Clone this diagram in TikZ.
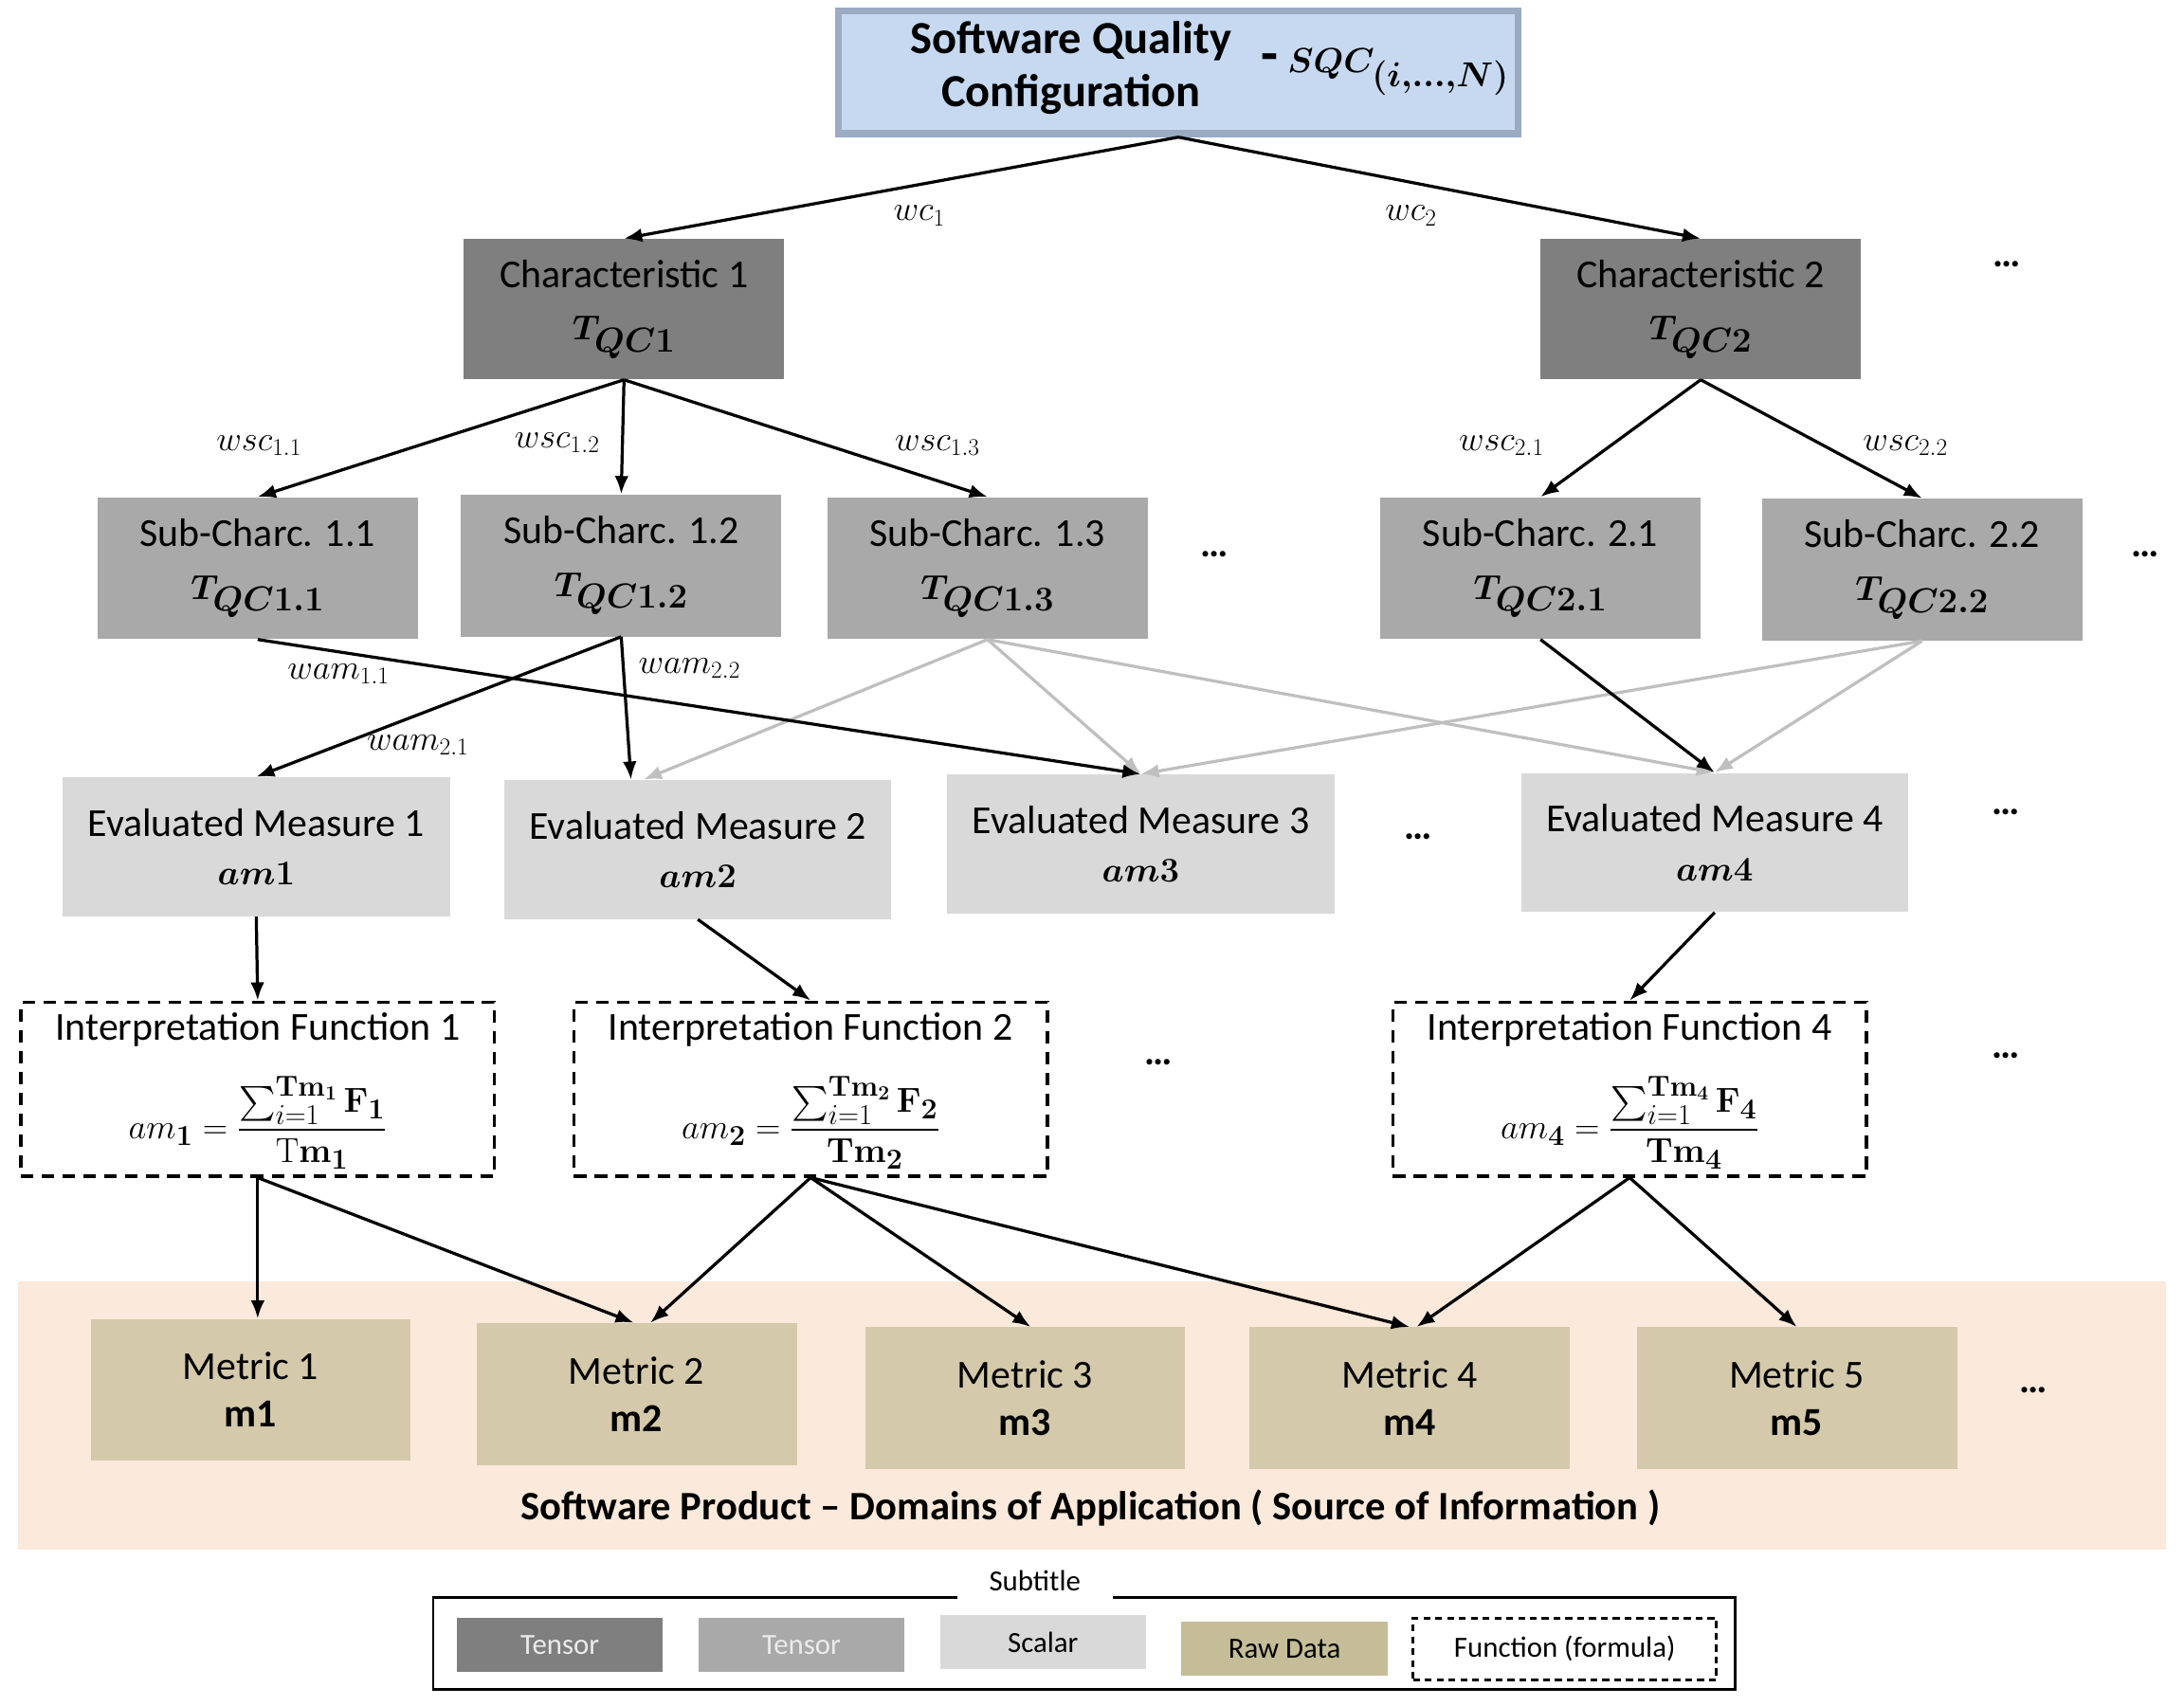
\documentclass[tikz,border=0pt]{standalone}
\usepackage{amsmath}
\usepackage{bm}
\usepackage[no-math]{fontspec}
\setmainfont{Carlito}
\usetikzlibrary{calc,positioning,arrows,arrows.meta}
\definecolor{sqcblue}{HTML}{C6D9F1}
\definecolor{sqcedge}{HTML}{9AABC2}
\definecolor{chargray}{HTML}{7F7F7F}
\definecolor{subgray}{HTML}{A9A9A9}
\definecolor{evalgray}{HTML}{D9D9D9}
\definecolor{metrictan}{HTML}{D4C9AB}
\definecolor{rawtan}{HTML}{C4BD97}
\definecolor{domainbg}{HTML}{FBE9DB}
\definecolor{weakline}{HTML}{BFBFBF}
\newcommand{\boxmath}[1]{{\fontsize{33}{38}\selectfont$#1$}}
\newcommand{\formula}[1]{{\fontsize{29.5}{34}\selectfont$#1$}}

\begin{document}
\begin{tikzpicture}[x=1pt,y=-1pt,
   box/.style={minimum width=230pt,minimum height=101pt,inner sep=0pt,align=center,font=\fontsize{28.5}{38}\selectfont},
   charbox/.style={box,fill=chargray},
   subbox/.style={box,fill=subgray,minimum height=102pt},
   evalbox/.style={box,fill=evalgray,minimum width=278pt,minimum height=100pt,font=\fontsize{28.5}{35}\selectfont},
   funcbox/.style={box,draw,dash pattern=on 9pt off 6pt,line width=2.2pt,minimum width=340pt,minimum height=125pt},
   functext/.style={inner sep=0pt,font=\fontsize{28.5}{34}\selectfont},
   metricbox/.style={box,fill=metrictan,minimum height=102pt,font=\fontsize{28.5}{34}\selectfont},
   legbox/.style={minimum width=148pt,minimum height=39pt,inner sep=0pt,font=\fontsize{21}{24}\selectfont},
   wlab/.style={font=\fontsize{27}{30}\selectfont},
   more/.style={font=\fontsize{28}{30}\selectfont\bfseries},
   arr/.style={line width=2.2pt,-{Latex[length=13pt,width=10pt]}},
   weak/.style={arr,draw=weakline}
   ]
\useasboundingbox (0,0) rectangle (1568,1225);

% source of information
\fill[domainbg] (13,920) rectangle (1555,1113);
\node[font=\fontsize{29}{32}\selectfont\bfseries] (domlbl) at (783,1083) {Software Product -- Domains of Application ( Source of Information )};

% top level
\node[draw=sqcedge,line width=5pt,fill=sqcblue,minimum width=488pt,minimum height=88pt] (sqc) at (846,52) {};
\node[align=center,font=\fontsize{33}{38}\selectfont\bfseries] (sqctxt) at (769,49) {Software Quality\\Configuration};
\node[font=\fontsize{40}{44}\selectfont\bfseries,anchor=west] (sqcname) at (902,52) {-\,$\bm{SQC}_{\bm{(i,\ldots,N)}}$};

\node[charbox] (char1) at (448,222) {Characteristic 1\\\boxmath{\bm{T_{QC1}}}};
\node[charbox] (char2) at (1221,222) {Characteristic 2\\\boxmath{\bm{T_{QC2}}}};

\node[subbox] (sub11) at (185,408) {Sub-Charc. 1.1\\\boxmath{\bm{T_{QC1.1}}}};
\node[subbox] (sub12) at (446,406) {Sub-Charc. 1.2\\\boxmath{\bm{T_{QC1.2}}}};
\node[subbox] (sub13) at (709,408) {Sub-Charc. 1.3\\\boxmath{\bm{T_{QC1.3}}}};
\node[subbox] (sub21) at (1106,408) {Sub-Charc. 2.1\\\boxmath{\bm{T_{QC2.1}}}};
\node[subbox] (sub22) at (1380,409) {Sub-Charc. 2.2\\\boxmath{\bm{T_{QC2.2}}}};

\node[evalbox] (em1) at (184,608) {Evaluated Measure 1\\\boxmath{\bm{am}\mathbf{1}}};
\node[evalbox] (em2) at (501,610) {Evaluated Measure 2\\\boxmath{\bm{am}\mathbf{2}}};
\node[evalbox] (em3) at (819,606) {Evaluated Measure 3\\\boxmath{\bm{am}\mathbf{3}}};
\node[evalbox] (em4) at (1231,605) {Evaluated Measure 4\\\boxmath{\bm{am}\mathbf{4}}};

% interpretation functions
\node[funcbox] (if1) at (185,782) {};
\node[funcbox] (if2) at (582,782) {};
\node[funcbox] (if4) at (1170,782) {};
\node[functext] (if1t) at ([yshift=-21pt]if1.north) {Interpretation Function 1};
\node[functext] (if2t) at ([yshift=-21pt]if2.north) {Interpretation Function 2};
\node[functext] (if4t) at ([yshift=-21pt]if4.north) {Interpretation Function 4};
\node[functext] (if1f) at ([yshift=-24pt]if1.center) {\formula{am_{\mathbf{1}}=\dfrac{\sum_{i=1}^{\mathbf{Tm_1}}\mathbf{F_1}}{\mathrm{T}\mathbf{m_1}}}};
\node[functext] (if2f) at ([yshift=-24pt]if2.center) {\formula{am_{\mathbf{2}}=\dfrac{\sum_{i=1}^{\mathbf{Tm_2}}\mathbf{F_2}}{\mathbf{Tm_2}}}};
\node[functext] (if4f) at ([yshift=-24pt]if4.center) {\formula{am_{\mathbf{4}}=\dfrac{\sum_{i=1}^{\mathbf{Tm_4}}\mathbf{F_4}}{\mathbf{Tm_4}}}};

\node[metricbox] (m1) at (180,998) {Metric 1\\\textbf{m1}};
\node[metricbox] (m2) at (457,1001) {Metric 2\\\textbf{m2}};
\node[metricbox] (m3) at (736,1004) {Metric 3\\\textbf{m3}};
\node[metricbox] (m4) at (1012,1004) {Metric 4\\\textbf{m4}};
\node[metricbox] (m5) at (1290,1004) {Metric 5\\\textbf{m5}};

% dots
\node[more] (dotc) at (1441,190) {…};
\node[more] (dots1) at (872,398) {…};
\node[more] (dots2) at (1540,398) {…};
\node[more] (dote1) at (1018,601) {…};
\node[more] (dote2) at (1440,583) {…};
\node[more] (dotf1) at (832,763) {…};
\node[more] (dotf2) at (1440,758) {…};
\node[more] (dotm) at (1460,998) {…};

% weights
\draw[arr] (sqc.south) -- (char1.north);
\draw[arr] (sqc.south) -- (char2.north);
\node[wlab] (lwc1) at (660,155) {$wc_1$};
\node[wlab] (lwc2) at (1013,155) {$wc_2$};

\draw[arr] (char1.south) -- (sub11.north);
\draw[arr] (char1.south) -- (sub12.north);
\draw[arr] (char1.south) -- (sub13.north);
\draw[arr] (char2.south) -- (sub21.north);
\draw[arr] (char2.south) -- (sub22.north);
\node[wlab] (lwsc11) at (186,320) {$wsc_{1.1}$};
\node[wlab] (lwsc12) at (400,318) {$wsc_{1.2}$};
\node[wlab] (lwsc13) at (673,320) {$wsc_{1.3}$};
\node[wlab] (lwsc21) at (1078,320) {$wsc_{2.1}$};
\node[wlab] (lwsc22) at (1368,320) {$wsc_{2.2}$};

% measures
\draw[weak] (sub13.south) -- ([xshift=-39pt]em2.north);
\draw[weak] (sub13.south) -- (em3.north);
\draw[weak] (sub13.south) -- (em4.north);
\draw[weak] (sub22.south) -- (em3.north);
\draw[weak] (sub22.south) -- (em4.north);
\draw[arr] (sub11.south) -- (em3.north);
\draw[arr] (sub12.south) -- (em1.north);
\draw[arr] (sub12.south) -- ([xshift=-48pt]em2.north);
\draw[arr] (sub21.south) -- (em4.north);
\node[wlab] (lwam11) at (243,484) {$wam_{1.1}$};
\node[wlab] (lwam22) at (495,480) {$wam_{2.2}$};
\node[wlab] (lwam21) at (300,535) {$wam_{2.1}$};

\draw[arr] (em1.south) -- (if1.north);
\draw[arr] (em2.south) -- (if2.north);
\draw[arr] (em4.south) -- (if4.north);

% metrics
\draw[arr] (if1.south) -- ([xshift=5pt]m1.north);
\draw[arr] (if1.south) -- ([xshift=-2pt]m2.north);
\draw[arr] (if2.south) -- ([xshift=10pt]m2.north);
\draw[arr] (if2.south) -- ([xshift=4pt]m3.north);
\draw[arr] (if2.south) -- (m4.north);
\draw[arr] (if4.south) -- ([xshift=5pt]m4.north);
\draw[arr] (if4.south) -- (m5.north);

% subtitle
\node[draw,line width=2pt,minimum width=935pt,minimum height=66pt] (legend) at (778.5,1180) {};
\node[fill=white,inner xsep=23pt,minimum height=34pt,font=\fontsize{21}{24}\selectfont] (subtitle) at (743,1135) {Subtitle};
\node[legbox,fill=chargray,text=white!92!black] (legt1) at (402,1181) {Tensor};
\node[legbox,fill=subgray,text=white!92!black,right=25pt of legt1] (legt2) {Tensor};
\node[legbox,fill=evalgray,right=25pt of legt2,yshift=2pt] (legsc) {Scalar};
\node[legbox,fill=rawtan,right=25pt of legsc,yshift=-5pt] (legraw) {Raw Data};
\node[legbox,draw,dash pattern=on 5pt off 3.5pt,line width=2pt,minimum width=218pt,minimum height=44pt,right=17pt of legraw] (legfn) {Function (formula)};
\end{tikzpicture}
\end{document}
